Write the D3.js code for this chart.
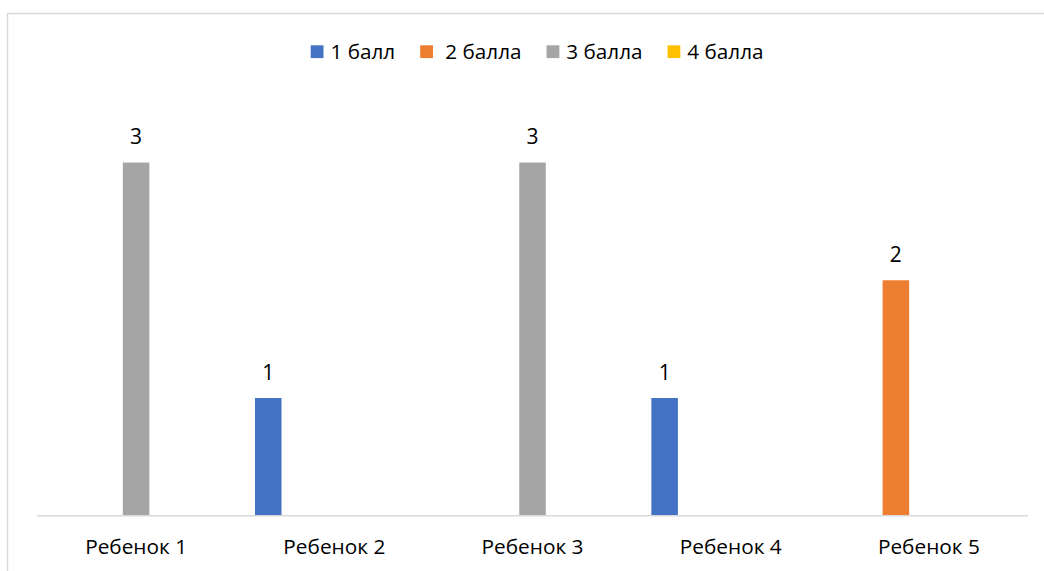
<!DOCTYPE html>
<html>
<head>
<meta charset="utf-8">
<script src="https://cdn.jsdelivr.net/npm/d3@7"></script>
<style>
  html, body { margin: 0; padding: 0; background: #fff; }
  svg { display: block; }
  text { font-family: "Open Sans", "Liberation Sans", sans-serif; fill: #000; white-space: pre; }
</style>
</head>
<body>
<svg id="chart" width="1044" height="571"></svg>
<script>
const categories = ["Ребенок 1", "Ребенок 2", "Ребенок 3", "Ребенок 4", "Ребенок 5"];
const seriesNames = ["1 балл", " 2 балла", "3 балла", "4 балла"];
const seriesColors = ["#4472C4", "#ED7D31", "#A5A5A5", "#FFC000"];
const values1 = [null, 1, null, 1, null];
const values2 = [null, null, null, null, 2];
const values3 = [3, null, 3, null, null];
const values4 = [null, null, null, null, null];
const seriesValues = [values1, values2, values3, values4];

const W = 1044, H = 571;
const svg = d3.select("#chart");

// chart border
svg.append("rect")
  .attr("x", 7.5).attr("y", 13.5)
  .attr("width", W).attr("height", H)
  .attr("fill", "#fff").attr("stroke", "#d9d9d9").attr("stroke-width", 1.5);

const plot = { left: 37, right: 1028, top: 103.7, bottom: 515.7 };

const x0 = d3.scaleBand().domain(categories).range([plot.left, plot.right]).padding(0);
// Excel group: 5 slots (one empty), gap width ~ one slot
const slots = d3.range(seriesNames.length + 1);
const groupW = x0.bandwidth() * (165 / 198);
const x1 = d3.scaleBand().domain(slots)
  .range([-groupW / 2, groupW / 2]).paddingInner(0.197).paddingOuter(0.0985);

const y = d3.scaleLinear().domain([0, 3.5]).range([plot.bottom, plot.top]);

const bars = [];
seriesValues.forEach((vals, si) => {
  vals.forEach((v, ci) => {
    if (v != null) bars.push({ si, cat: categories[ci], v });
  });
});

const g = svg.append("g");
g.selectAll("rect.bar").data(bars).join("rect")
  .attr("class", "bar")
  .attr("x", d => x0(d.cat) + x0.bandwidth() / 2 + x1(d.si))
  .attr("width", x1.bandwidth())
  .attr("y", d => y(d.v))
  .attr("height", d => y(0) - y(d.v))
  .attr("fill", d => seriesColors[d.si]);

g.selectAll("text.lbl").data(bars).join("text")
  .attr("class", "lbl")
  .attr("x", d => x0(d.cat) + x0.bandwidth() / 2 + x1(d.si) + x1.bandwidth() / 2)
  .attr("y", d => y(d.v) - 18.3)
  .attr("text-anchor", "middle")
  .attr("font-size", 21)
  .text(d => d.v);

// x axis
const xAxis = d3.axisBottom(x0).tickSize(0).tickPadding(0);
const ax = svg.append("g").attr("transform", `translate(0,${plot.bottom})`).call(xAxis);
ax.select(".domain").attr("stroke", "#d9d9d9").attr("stroke-width", 1.5)
  .attr("d", `M${plot.left},0H${plot.right}`);
ax.selectAll(".tick text")
  .attr("y", 38.8).attr("dy", 0)
  .attr("font-size", 20.8)
  .attr("font-family", "'Open Sans', 'Liberation Sans', sans-serif")
  .attr("fill", "#000");

// legend
const legend = svg.append("g");
let lx = 310.7;
const sq = 12.8;
seriesNames.forEach((name, i) => {
  legend.append("rect").attr("x", lx).attr("y", 45.3).attr("width", sq).attr("height", sq)
    .attr("fill", seriesColors[i]);
  const t = legend.append("text").attr("x", lx + sq + 7).attr("y", 58.6)
    .attr("font-size", 20.7).text(name);
  lx = lx + sq + 7 + t.node().getComputedTextLength() + 25;
});
</script>
</body>
</html>
